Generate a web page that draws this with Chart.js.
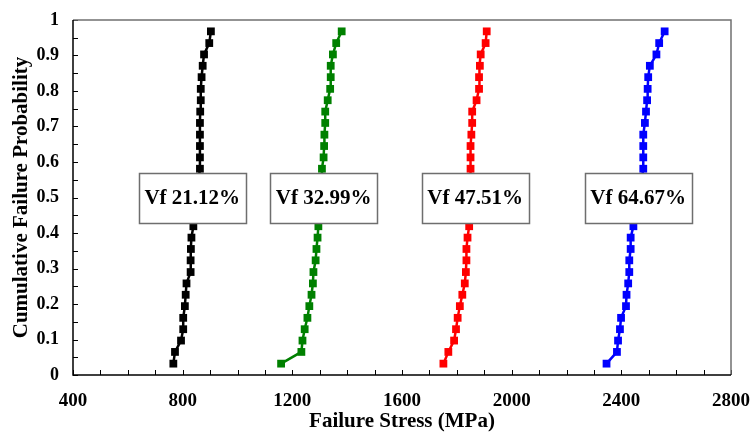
<!DOCTYPE html>
<html>
<head>
<meta charset="utf-8">
<script src="https://cdn.jsdelivr.net/npm/chart.js@4.4.1/dist/chart.umd.min.js"></script>
<style>
  html, body { margin: 0; padding: 0; background: #ffffff; }
  #wrap { width: 753px; height: 438px; position: relative; }
</style>
</head>
<body>
<div id="wrap"><canvas id="c" width="753" height="438"></canvas></div>
<script>
// Cumulative failure probability for each of the 30 ranked samples
const probabilities = [0.032, 0.065, 0.097, 0.129, 0.161, 0.194, 0.226, 0.258, 0.290, 0.323,
                       0.355, 0.387, 0.419, 0.452, 0.484, 0.516, 0.548, 0.581, 0.613, 0.645,
                       0.677, 0.710, 0.742, 0.774, 0.806, 0.839, 0.871, 0.903, 0.935, 0.968];

const seriesNames = ['Vf 21.12%', 'Vf 32.99%', 'Vf 47.51%', 'Vf 64.67%'];

// Failure stress (MPa)
const stressVf2112 = [766, 772, 794, 802, 802, 808, 811, 814, 829, 829,
                      830, 832, 839, 843, 848, 853, 858, 863, 863, 863,
                      863, 863, 864, 866, 866, 869, 873, 878, 897, 903];
const stressVf3299 = [1159, 1233, 1237, 1245, 1255, 1262, 1270, 1275, 1277, 1285,
                      1288, 1292, 1295, 1297, 1300, 1302, 1305, 1308, 1314, 1316,
                      1317, 1320, 1320, 1329, 1338, 1340, 1340, 1348, 1360, 1380];
const stressVf4751 = [1751, 1769, 1790, 1797, 1803, 1811, 1820, 1829, 1833, 1835,
                      1835, 1839, 1845, 1846, 1847, 1848, 1849, 1850, 1850, 1850,
                      1853, 1856, 1856, 1872, 1881, 1881, 1884, 1887, 1905, 1909];
const stressVf6467 = [2346, 2384, 2388, 2395, 2399, 2417, 2419, 2425, 2429, 2429,
                      2434, 2434, 2444, 2452, 2460, 2467, 2474, 2480, 2480, 2480,
                      2480, 2486, 2490, 2494, 2496, 2498, 2504, 2528, 2538, 2558];

const seriesColors = ['#000000', '#008000', '#ff0000', '#0000ff'];

// Label boxes: text and centre stress (MPa) at probability 0.5
const labelTexts = ['Vf 21.12%', 'Vf 32.99%', 'Vf 47.51%', 'Vf 64.67%'];
const labelCenterStress = [835, 1314, 1867, 2461];
const labelCenterProb = 0.5;

const xTicks = [400, 800, 1200, 1600, 2000, 2400, 2800];
const yTicks = [0, 0.1, 0.2, 0.3, 0.4, 0.5, 0.6, 0.7, 0.8, 0.9, 1];

const allStress = [stressVf2112, stressVf3299, stressVf4751, stressVf6467];

const FONT = "'Liberation Serif', 'Times New Roman', serif";

const datasets = allStress.map((arr, k) => ({
  label: seriesNames[k],
  data: arr.map((v, i) => ({ x: v, y: probabilities[i] })),
  showLine: true,
  borderColor: seriesColors[k],
  backgroundColor: seriesColors[k],
  borderWidth: 2.5,
  pointStyle: 'rect',
  pointRadius: 5.5,
  pointHoverRadius: 5.5,
  pointBorderWidth: 0,
  tension: 0
}));

const framePlugin = {
  id: 'frame',
  beforeDatasetsDraw(chart) {
    const { ctx, chartArea: a, scales } = chart;
    const xs = scales.x, ys = scales.y;
    ctx.save();
    ctx.strokeStyle = '#000';
    ctx.lineWidth = 1;
    ctx.beginPath();
    for (let v = xTicks[0]; v <= xTicks[xTicks.length - 1]; v += 100) {
      const px = Math.round(xs.getPixelForValue(v)) + 0.5;
      ctx.moveTo(px, a.bottom);
      ctx.lineTo(px, a.bottom - 5);
    }
    for (let k = 0; k <= 20; k++) {
      const py = Math.round(ys.getPixelForValue(k * 0.05)) + 0.5;
      ctx.moveTo(a.left, py);
      ctx.lineTo(a.left + 5, py);
    }
    ctx.stroke();
    ctx.strokeStyle = '#707070';
    ctx.lineWidth = 1.5;
    ctx.beginPath();
    ctx.moveTo(a.left, a.top);
    ctx.lineTo(a.right, a.top);
    ctx.lineTo(a.right, a.bottom);
    ctx.stroke();
    ctx.strokeStyle = '#000';
    ctx.lineWidth = 1.5;
    ctx.beginPath();
    ctx.moveTo(a.left, a.top);
    ctx.lineTo(a.left, a.bottom);
    ctx.lineTo(a.right, a.bottom);
    ctx.stroke();
    ctx.restore();
  },
  afterDatasetsDraw(chart) {
    const { ctx, scales } = chart;
    ctx.save();
    ctx.font = 'bold 21px ' + FONT;
    ctx.textAlign = 'center';
    ctx.textBaseline = 'middle';
    labelTexts.forEach((t, k) => {
      const cx = scales.x.getPixelForValue(labelCenterStress[k]);
      const cy = scales.y.getPixelForValue(labelCenterProb);
      const w = 107, h = 50;
      const x0 = Math.round(cx - w / 2) + 0.5, y0 = Math.round(cy - h / 2) + 0.5;
      ctx.fillStyle = '#ffffff';
      ctx.fillRect(x0, y0, w, h);
      ctx.strokeStyle = '#6e6e6e';
      ctx.lineWidth = 1.5;
      ctx.strokeRect(x0, y0, w, h);
      ctx.fillStyle = '#000';
      ctx.fillText(t, cx, cy + 1);
    });
    ctx.restore();
  }
};

new Chart(document.getElementById('c'), {
  type: 'scatter',
  data: { datasets },
  plugins: [framePlugin],
  options: {
    responsive: false,
    animation: false,
    layout: { padding: { top: 20, right: 22, left: 0, bottom: 0 } },
    plugins: { legend: { display: false }, tooltip: { enabled: false } },
    scales: {
      x: {
        type: 'linear',
        min: 400, max: 2800,
        afterFit(s) { s.height = 63; s.paddingLeft = 0; s.paddingRight = 0; },
        afterBuildTicks(s) { s.ticks = xTicks.map(v => ({ value: v })); },
        grid: { display: false, drawTicks: false },
        border: { display: false },
        ticks: {
          padding: 15,
          color: '#000',
          font: { family: FONT, size: 19, weight: 'bold' },
          maxRotation: 0,
          autoSkip: false,
          callback: v => String(v)
        },
        title: {
          display: true,
          text: 'Failure Stress (MPa)',
          color: '#000',
          font: { family: FONT, size: 21, weight: 'bold' },
          padding: { top: 0, bottom: 4 }
        }
      },
      y: {
        type: 'linear',
        min: 0, max: 1,
        afterFit(s) { s.width = 73; s.paddingTop = 0; s.paddingBottom = 0; },
        afterBuildTicks(s) { s.ticks = yTicks.map(v => ({ value: v })); },
        grid: { display: false, drawTicks: false },
        border: { display: false },
        ticks: {
          padding: 14,
          color: '#000',
          font: { family: FONT, size: 18, weight: 'bold' },
          autoSkip: false,
          callback: v => String(Number(v.toFixed(1)))
        },
        title: {
          display: true,
          text: 'Cumulative Failure Probability',
          color: '#000',
          font: { family: FONT, size: 21, weight: 'bold' },
          padding: { top: 9, bottom: 0 }
        }
      }
    }
  }
});
</script>
</body>
</html>
